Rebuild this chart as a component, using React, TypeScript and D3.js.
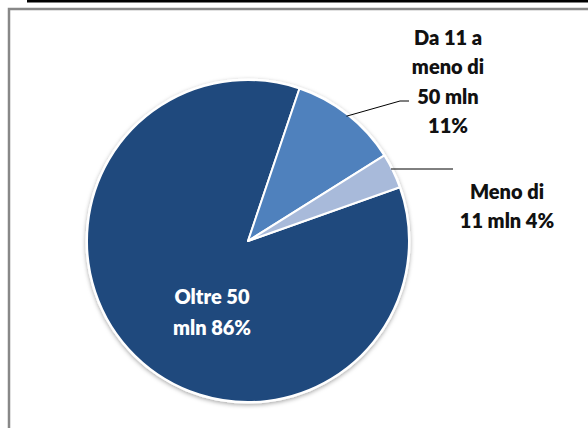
import React from "react";
import * as d3 from "d3";

const categories = ["Oltre 50 mln", "Da 11 a meno di 50 mln", "Meno di 11 mln"];
const values = [85.6, 10.9, 3.5];
const labelLines = [
  ["Oltre 50", "mln 86%"],
  ["Da 11 a", "meno di", "50 mln", "11%"],
  ["Meno di", "11 mln 4%"],
];
const colors = ["#1F497D", "#4F81BD", "#A8BADA"];

const W = 588;
const H = 428;
const cx = 248;
const cy = 241;
const R = 161;
const startDeg = 70.5;
const FONT = "Lato, 'Open Sans', sans-serif";

export default function App() {
  const pie = d3
    .pie<number>()
    .sort(null)
    .value((d) => d)
    .startAngle((startDeg * Math.PI) / 180)
    .endAngle(((startDeg + 360) * Math.PI) / 180);
  const arcs = pie(values);
  const arc = d3.arc<d3.PieArcDatum<number>>().innerRadius(0).outerRadius(R);
  const edge = (a: number, r: number) => [cx + r * Math.sin(a), cy - r * Math.cos(a)];

  const mid1 = (arcs[1].startAngle + arcs[1].endAngle) / 2;
  const p1 = edge(mid1, R - 2);
  const ly2 = 169;
  const p2x = cx + Math.sqrt(R * R - (cy - ly2) * (cy - ly2)) - 1;

  return (
    <svg
      width={W}
      height={H}
      style={{ position: "absolute", left: 0, top: 0, background: "#fff" }}
    >
      <defs>
        <filter id="sh" x="-10%" y="-10%" width="120%" height="120%">
          <feDropShadow dx="0" dy="1.5" stdDeviation="2" floodColor="#000" floodOpacity="0.35" />
        </filter>
      </defs>
      <rect x={0} y={0} width={W} height={H} fill="#fff" />
      <line x1={27} x2={W} y1={1} y2={1} stroke="#000" strokeWidth={3} />
      <path d={`M9,${H} V9 H${W}`} fill="none" stroke="#888" strokeWidth={2.5} />
      <g filter="url(#sh)">
        <circle cx={cx} cy={cy} r={R + 1.5} fill="#fff" />
      </g>
      <g transform={`translate(${cx},${cy})`}>
        {arcs.map((a, i) => (
          <path key={categories[i]} d={arc(a) || ""} fill={colors[i]} stroke="#fff" strokeWidth={2} strokeLinejoin="round" />
        ))}
      </g>
      <polyline
        points={`${p1[0]},${p1[1]} 400,101 409,101`}
        fill="none"
        stroke="#000"
        strokeWidth={1}
      />
      <polyline
        points={`${p2x},${ly2} 453,${ly2}`}
        fill="none"
        stroke="#000"
        strokeWidth={1}
      />
      <g fontFamily={FONT} fontWeight={800} fontSize={20} textAnchor="middle">
        {labelLines[0].map((t, j) => (
          <text key={t} x={212} y={297 + j * 31} dy="0.35em" fill="#fff">
            {t}
          </text>
        ))}
        {labelLines[1].map((t, j) => (
          <text key={t} x={448} y={38 + j * 29.3} dy="0.35em" fill="#111">
            {t}
          </text>
        ))}
        {labelLines[2].map((t, j) => (
          <text key={t} x={507} y={192 + j * 29} dy="0.35em" fill="#111">
            {t}
          </text>
        ))}
      </g>
    </svg>
  );
}
